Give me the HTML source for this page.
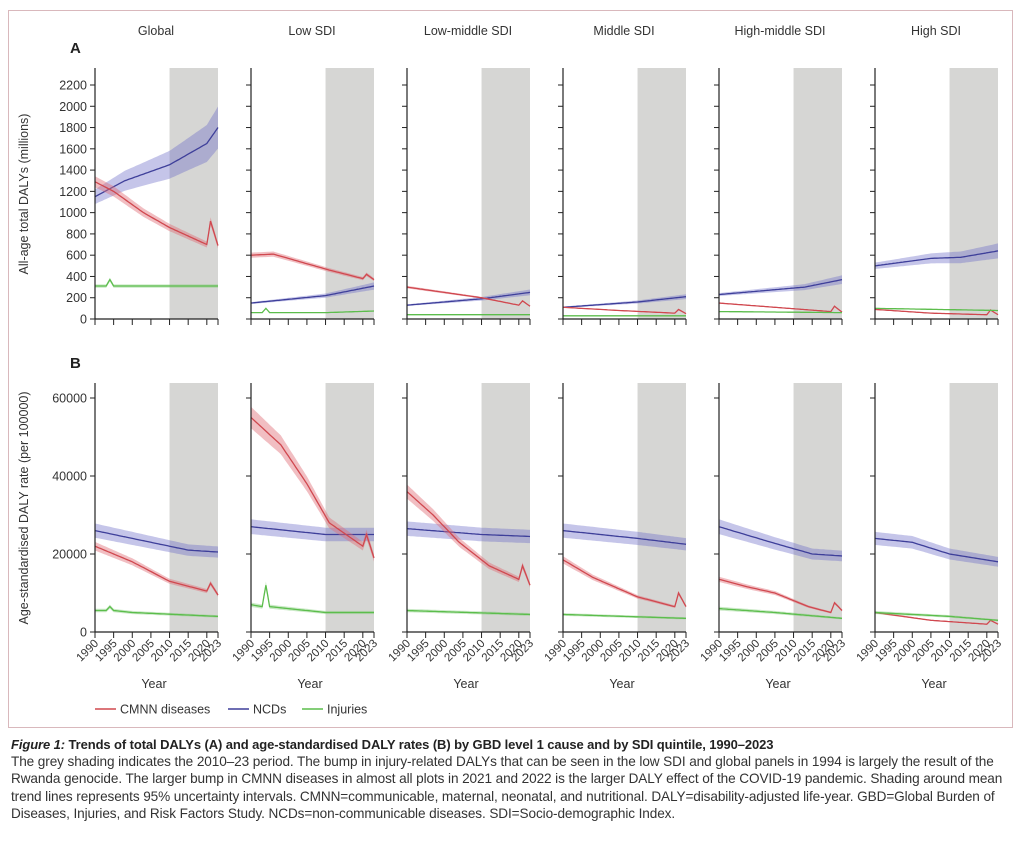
<!DOCTYPE html>
<html><head><meta charset="utf-8"><style>
body{margin:0;background:#fff;width:1024px;height:845px;overflow:hidden;font-family:"Liberation Sans",sans-serif;}
svg{position:absolute;left:0;top:0}
.cap{position:absolute;left:11px;top:736px;width:1005px;font-size:13.6px;line-height:17.2px;color:#333;letter-spacing:-0.1px}
.cap b{color:#222;font-size:13px}
</style></head><body>
<svg id="s" width="1024" height="730" xmlns="http://www.w3.org/2000/svg" font-family="Liberation Sans, sans-serif"></svg>
<div class="cap"><b><i>Figure 1:</i> Trends of total DALYs (A) and age-standardised DALY rates (B) by GBD level 1 cause and by SDI quintile, 1990–2023</b><br>The grey shading indicates the 2010–23 period. The bump in injury-related DALYs that can be seen in the low SDI and global panels in 1994 is largely the result of the Rwanda genocide. The larger bump in CMNN diseases in almost all plots in 2021 and 2022 is the larger DALY effect of the COVID-19 pandemic. Shading around mean trend lines represents 95% uncertainty intervals. CMNN=communicable, maternal, neonatal, and nutritional. DALY=disability-adjusted life-year. GBD=Global Burden of Diseases, Injuries, and Risk Factors Study. NCDs=non-communicable diseases. SDI=Socio-demographic Index.</div>
<script>
const S=document.getElementById('s');let h='';
h+='<rect x="8.5" y="10.5" width="1004" height="717" fill="none" stroke="#d9b8bc" stroke-width="1"/>';
const titles=['Global','Low SDI','Low-middle SDI','Middle SDI','High-middle SDI','High SDI'];
const W=123;
const A={top:68,y0:319,max:2200,scale:234/2200};
const B={top:383,y0:632,max:60000,scale:234/60000};
const dA=[
{c:[[1990,1290],[1995,1200],[2003,1000],[2010,860],[2020,700],[2021,920],[2023,690]],n:[[1990,1150],[1998,1300],[2010,1450],[2020,1650],[2023,1800]],i:[[1990,310],[1993,310],[1994,370],[1995,310],[2023,310]]},
{c:[[1990,600],[1996,610],[2007,500],[2011,460],[2020,380],[2021,420],[2023,370]],n:[[1990,150],[2010,220],[2023,310]],i:[[1990,60],[1993,60],[1994,100],[1995,60],[2010,60],[2023,75]]},
{c:[[1990,300],[2000,250],[2010,200],[2020,130],[2021,170],[2023,120]],n:[[1990,130],[2010,190],[2023,250]],i:[[1990,40],[2023,40]]},
{c:[[1990,110],[2005,80],[2020,55],[2021,90],[2023,50]],n:[[1990,110],[2010,160],[2023,210]],i:[[1990,30],[2023,30]]},
{c:[[1990,150],[2005,110],[2020,70],[2021,120],[2023,65]],n:[[1990,230],[2013,300],[2023,370]],i:[[1990,70],[2023,60]]},
{c:[[1990,90],[2005,55],[2020,40],[2021,85],[2023,40]],n:[[1990,500],[2005,570],[2013,580],[2023,640]],i:[[1990,100],[2023,80]]}];
const dB=[
{c:[[1990,22000],[2000,18000],[2010,13000],[2020,10500],[2021,12500],[2023,9500]],n:[[1990,26000],[2005,23000],[2015,21000],[2023,20500]],i:[[1990,5500],[1993,5500],[1994,6500],[1995,5500],[2000,5000],[2023,4000]]},
{c:[[1990,55000],[1998,48000],[2005,38000],[2011,28000],[2020,22000],[2021,25000],[2023,19000]],n:[[1990,27000],[2010,25000],[2023,25000]],i:[[1990,7000],[1993,6500],[1994,12000],[1995,6500],[2000,6000],[2010,5000],[2023,5000]]},
{c:[[1990,36000],[1997,30000],[2004,23000],[2012,17000],[2020,13500],[2021,17000],[2023,12000]],n:[[1990,26500],[2010,25000],[2023,24500]],i:[[1990,5500],[2023,4500]]},
{c:[[1990,18500],[1998,14000],[2010,9000],[2020,6500],[2021,10000],[2023,6500]],n:[[1990,26000],[2010,24000],[2023,22500]],i:[[1990,4500],[2023,3500]]},
{c:[[1990,13500],[1998,11500],[2005,10000],[2014,6500],[2020,5000],[2021,7500],[2023,5500]],n:[[1990,27000],[2004,23000],[2015,20000],[2023,19500]],i:[[1990,6000],[2005,5000],[2023,3500]]},
{c:[[1990,5000],[2005,3000],[2020,2000],[2021,3000],[2023,2000]],n:[[1990,24000],[2000,23000],[2010,20000],[2023,18000]],i:[[1990,5000],[2010,4000],[2023,3000]]}];
function interp(p,y){for(let k=0;k<p.length-1;k++){if(y>=p[k][0]&&y<=p[k+1][0]){const t=(y-p[k][0])/(p[k+1][0]-p[k][0]);return p[k][1]+t*(p[k+1][1]-p[k][1]);}}return p[p.length-1][1];}
const cols={c:['#d0484f','rgba(225,110,120,0.45)'],n:['#3e3f9a','rgba(110,110,200,0.4)'],i:['#5cbd4c','rgba(120,200,110,0.4)']};
function panel(x0,P,d,band,labels){
 const X=y=>x0+(y-1990)/33*W;
 h+=`<rect x="${X(2010)}" y="${P.top}" width="${X(2023)-X(2010)}" height="${P.y0-P.top}" fill="#d6d6d4"/>`;
 for(const k of ['n','c','i']){
  let up=[],lo=[],ln=[];
  for(let y=1990;y<=2023;y+=0.5){const v=interp(d[k],y);const bw=band(k,v,y);
   ln.push(X(y).toFixed(1)+','+(P.y0-v*P.scale).toFixed(1));
   up.push(X(y).toFixed(1)+','+(P.y0-(v+bw)*P.scale).toFixed(1));
   lo.unshift(X(y).toFixed(1)+','+(P.y0-Math.max(0,v-bw)*P.scale).toFixed(1));}
  h+=`<polygon points="${up.join(' ')} ${lo.join(' ')}" fill="${cols[k][1]}"/>`;
  h+=`<polyline points="${ln.join(' ')}" fill="none" stroke="${cols[k][0]}" stroke-width="1.3"/>`;
 }
 h+=`<line x1="${x0}" y1="${P.top}" x2="${x0}" y2="${P.y0}" stroke="#222" stroke-width="1.2"/>`;
 h+=`<line x1="${x0}" y1="${P.y0}" x2="${x0+W}" y2="${P.y0}" stroke="#222" stroke-width="1.2"/>`;
 const step=P.max==2200?200:20000;
 for(let v=0;v<=P.max;v+=step){const y=P.y0-v*P.scale;h+=`<line x1="${x0-5}" y1="${y}" x2="${x0}" y2="${y}" stroke="#222"/>`;
  if(labels)h+=`<text x="${x0-8}" y="${y+4.5}" font-size="12.5" text-anchor="end" fill="#333">${v}</text>`;}
 for(const yr of [1990,1995,2000,2005,2010,2015,2020,2023]){h+=`<line x1="${X(yr)}" y1="${P.y0}" x2="${X(yr)}" y2="${P.y0+6}" stroke="#222"/>`;}
}
for(let p=0;p<6;p++){
 const x0=95+156*p;
 h+=`<text x="${x0+61}" y="35" font-size="12.5" text-anchor="middle" fill="#333">${titles[p]}</text>`;
 panel(x0,A,dA[p],(k,v,y)=>k=='n'?v*(0.06+0.05*(y-1990)/33):k=='c'?v*0.04:v*0.05,p==0);
 panel(x0,B,dB[p],(k,v,y)=>k=='n'?v*0.07:k=='c'?v*0.05:v*0.08,p==0);
 const X=y=>x0+(y-1990)/33*W;
 for(const yr of [1990,1995,2000,2005,2010,2015,2020,2023]){
  h+=`<text transform="translate(${X(yr)+4},${644}) rotate(-45)" font-size="11.5" text-anchor="end" fill="#333">${yr}</text>`;}
 h+=`<text x="${x0+59}" y="688" font-size="12.5" text-anchor="middle" fill="#333">Year</text>`;
}
h+='<text x="70" y="53" font-size="15" font-weight="bold" fill="#222">A</text>';
h+='<text x="70" y="368" font-size="15" font-weight="bold" fill="#222">B</text>';
h+='<text transform="translate(28,194) rotate(-90)" font-size="12.5" text-anchor="middle" fill="#333">All-age total DALYs (millions)</text>';
h+='<text transform="translate(28,508) rotate(-90)" font-size="12.5" text-anchor="middle" fill="#333">Age-standardised DALY rate (per 100000)</text>';
const leg=[[95,'#d0484f','CMNN diseases'],[228,'#3e3f9a','NCDs'],[302,'#5cbd4c','Injuries']];
for(const [x,c,t] of leg){h+=`<line x1="${x}" y1="709" x2="${x+21}" y2="709" stroke="${c}" stroke-width="1.5"/><text x="${x+25}" y="713.5" font-size="12.5" fill="#333">${t}</text>`;}
S.innerHTML=h;
</script>
</body></html>
